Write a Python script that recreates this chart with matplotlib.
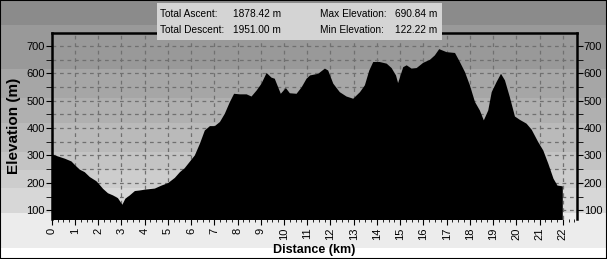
import matplotlib
matplotlib.use('Agg')
import matplotlib.pyplot as plt
from matplotlib.patches import Rectangle
from matplotlib.ticker import MultipleLocator

# profile
dist_km = [0.0, 0.26, 0.55, 0.83, 1.0, 1.19, 1.4, 1.62, 1.9, 2.0, 2.19, 2.4, 2.62, 2.83,
           3.02, 3.15, 3.34, 3.56, 3.77, 3.99, 4.2, 4.42, 4.71, 4.99, 5.28, 5.5, 5.7, 5.85,
           6.14, 6.36, 6.57, 6.79, 7.0, 7.22, 7.43, 7.65, 7.83, 8.08, 8.37, 8.58, 8.8, 9.01,
           9.23, 9.44, 9.58, 9.84, 10.06, 10.23, 10.52, 10.74, 10.95, 11.1, 11.45, 11.74,
           11.88, 12.1, 12.38, 12.67, 12.96, 13.25, 13.46, 13.65, 13.82, 14.1, 14.4, 14.61,
           14.8, 14.89, 15.11, 15.26, 15.47, 15.69, 15.97, 16.26, 16.47, 16.66, 16.98, 17.34,
           17.55, 17.77, 17.98, 18.2, 18.41, 18.58, 18.77, 18.92, 19.13, 19.32, 19.49, 19.7,
           19.92, 20.13, 20.42, 20.64, 20.92, 21.14, 21.36, 21.58, 21.75, 21.98]
elev_m = [306, 298, 290, 280, 265, 250, 241, 223, 208, 199, 180, 164, 156, 146,
          122, 144, 156, 172, 174, 177, 179, 181, 192, 201, 220, 241, 255, 271,
          302, 345, 393, 409, 409, 424, 454, 497, 527, 525, 525, 517, 539, 564,
          603, 586, 582, 527, 548, 529, 527, 551, 582, 594, 600, 619,
          612, 564, 533, 517, 509, 533, 558, 612, 643, 643, 637, 621,
          594, 566, 624, 631, 619, 621, 640, 651, 667, 690, 679, 676,
          643, 606, 558, 497, 466, 430, 466, 533, 570, 600, 576, 515,
          444, 432, 418, 396, 351, 320, 271, 217, 192, 189]

stats_left = ['Total Ascent:', 'Total Descent:']
stats_left_val = ['1878.42 m', '1951.00 m']
stats_right = ['Max Elevation:', 'Min Elevation:']
stats_right_val = ['690.84 m', '122.22 m']

W, H = 607, 259
fig = plt.figure(figsize=(W / 100, H / 100), dpi=100, facecolor='white')

# gray bands behind everything (pixel rows from the top)
bands = [(0, 25, '#8b8b8b'), (25, 69, '#999999'), (69, 98, '#a6a6a6'),
         (98, 123, '#b0b0b0'), (123, 152, '#bababa'), (152, 170, '#c4c4c4'),
         (170, 188, '#cdcdcd'), (188, 213, '#d7d7d7'), (213, 248, '#ececec'),
         (248, 259, '#ffffff')]
for y0, y1, c in bands:
    fig.patches.append(Rectangle((0, 1 - y1 / H), 1, (y1 - y0) / H, transform=fig.transFigure,
                                 facecolor=c, edgecolor='none', zorder=-10))

ax = fig.add_axes([51.7 / W, 1 - 219.3 / H, (576.7 - 51.7) / W, (219.3 - 33.3) / H])
ax.patch.set_alpha(0)

ax.fill_between(dist_km, elev_m, 0, color='black', lw=0, zorder=3)
ax.set_xlim(0, 22.6)
ax.set_ylim(67, 746)

ax.xaxis.set_major_locator(MultipleLocator(1))
ax.xaxis.set_minor_locator(MultipleLocator(0.25))
ax.yaxis.set_major_locator(MultipleLocator(100))
ax.yaxis.set_minor_locator(MultipleLocator(50))
ax.grid(which='major', axis='x', color='#707070', ls=(0, (3, 3)), lw=0.9, zorder=1)
ax.grid(which='both', axis='y', color='#707070', ls=(0, (3, 3)), lw=0.9, zorder=1)

ax.tick_params(axis='x', which='major', length=4, labelsize=8, labelrotation=90, pad=2)
ax.tick_params(axis='x', which='minor', length=2)
ax.tick_params(axis='y', which='both', length=4, labelsize=8, pad=1,
               left=True, right=True, labelleft=True, labelright=True)
for lab in ax.get_xticklabels() + ax.get_yticklabels():
    lab.set_family('Liberation Sans')

for s in ['left', 'right', 'top']:
    ax.spines[s].set_linewidth(1.8)
ax.spines['bottom'].set_visible(False)

ax.set_xlabel('Distance (km)', fontsize=9, fontweight='bold', family='Liberation Sans', labelpad=3)
ax.set_ylabel('Elevation (m)', fontsize=11, fontweight='bold', family='Liberation Sans', labelpad=4)

# stats box at the top
fig.patches.append(Rectangle((157 / W, 1 - 39.5 / H), (442 - 157) / W, (39.5 - 2.5) / H,
                             transform=fig.transFigure, facecolor='#d4d4d4', edgecolor='none', zorder=5))
rows_y = [14, 30]
for i in range(2):
    yy = 1 - rows_y[i] / H
    fig.text(160 / W, yy, stats_left[i], fontsize=7.3, va='center', family='Liberation Sans', zorder=6)
    fig.text(281 / W, yy, stats_left_val[i], fontsize=7.3, va='center', ha='right', family='Liberation Sans', zorder=6)
    fig.text(320 / W, yy, stats_right[i], fontsize=7.3, va='center', family='Liberation Sans', zorder=6)
    fig.text(437 / W, yy, stats_right_val[i], fontsize=7.3, va='center', ha='right', family='Liberation Sans', zorder=6)

# outer frame
fig.patches.append(Rectangle((0, 0), 1, 1, transform=fig.transFigure, facecolor='none',
                             edgecolor='black', lw=1.5, zorder=20))

fig.savefig('out.png', dpi=100)
